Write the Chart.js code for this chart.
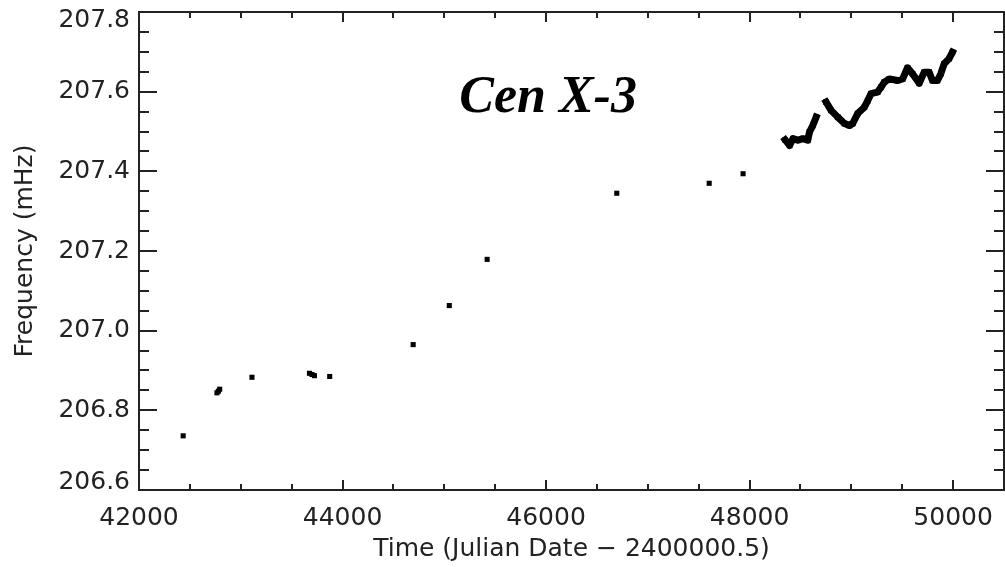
<!DOCTYPE html>
<html>
<head>
<meta charset="utf-8">
<title>Cen X-3</title>
<script src="https://cdn.jsdelivr.net/npm/chart.js@4/dist/chart.umd.min.js"></script>
<style>
    html, body { margin: 0; padding: 0; background: #fff; overflow: hidden; }
    #freq-chart { display: block; }
</style>
</head>
<body>
<canvas id="freq-chart" width="1008" height="567"></canvas>
<script>
// sparse timings (early missions)
const sparseTimes = [42434, 42766, 42780, 42793, 43110, 43675, 43700, 43724, 43874, 44694, 45049, 45421, 46695, 47603, 47936];
const sparseFreqs = [206.736, 206.844, 206.848, 206.853, 206.883, 206.893, 206.890, 206.887, 206.885, 206.965, 207.063, 207.179, 207.345, 207.370, 207.394];

// dense monitoring, null marks the gap between the two runs
const denseTimes = [48350, 48393, 48426, 48474, 48523, 48572, 48589, 48621, 48654, 48700,
    48752, 48801, 48866, 48932, 48981, 49013, 49062, 49128, 49160, 49193, 49258, 49291, 49324,
    49373, 49454, 49504, 49552, 49601, 49667, 49716, 49765, 49797, 49846, 49879, 49912, 49961, 49993];
const denseFreqs = [207.479, 207.465, 207.482, 207.478, 207.482, 207.478, 207.499, 207.515, 207.536, null,
    207.574, 207.553, 207.536, 207.520, 207.515, 207.520, 207.545, 207.561, 207.577, 207.595, 207.599, 207.611, 207.624,
    207.632, 207.628, 207.632, 207.660, 207.645, 207.621, 207.649, 207.649, 207.628, 207.628, 207.645, 207.670, 207.683, 207.699];

const xMajorTicks = [42000, 44000, 46000, 48000, 50000];
const yMajorTicks = [206.6, 206.8, 207.0, 207.2, 207.4, 207.6, 207.8];

const sourceName = 'Cen X-3';
const sourceLabelAt = { x: 46020, y: 207.548 };

const ink = '#222';

Chart.defaults.font.family = "'DejaVu Sans', sans-serif";
Chart.defaults.color = ink;

const toPoints = (xs, ys) => xs.map((x, i) => ({ x: x, y: ys[i] }));
const isEndTick = i => i === 0 || i === yMajorTicks.length - 1;

// IDL-style box with inward ticks on all four sides
const frameTicks = {
    id: 'frameTicks',
    afterDraw(chart) {
        const { ctx, chartArea: a, scales: { x, y } } = chart;
        ctx.save();
        ctx.strokeStyle = ink;
        ctx.lineWidth = 2;
        ctx.strokeRect(a.left, a.top, a.right - a.left, a.bottom - a.top);

        ctx.beginPath();
        for (let i = 0; i <= 17; i++) {
            const px = Math.round(x.getPixelForValue(x.min + i * 500));
            const len = i % 4 === 0 ? 10 : 6;
            ctx.moveTo(px, a.bottom);
            ctx.lineTo(px, a.bottom - len);
            ctx.moveTo(px, a.top);
            ctx.lineTo(px, a.top + len);
        }
        for (let i = 0; i <= 24; i++) {
            const py = Math.round(y.getPixelForValue(y.min + i * 0.05));
            const len = i % 4 === 0 ? 18 : 10;
            ctx.moveTo(a.left, py);
            ctx.lineTo(a.left + len, py);
            ctx.moveTo(a.right, py);
            ctx.lineTo(a.right - len, py);
        }
        ctx.stroke();

        ctx.fillStyle = '#000';
        ctx.font = "bold italic 52px 'Liberation Serif', 'DejaVu Serif', serif";
        ctx.textAlign = 'center';
        ctx.textBaseline = 'alphabetic';
        ctx.fillText(sourceName, x.getPixelForValue(sourceLabelAt.x), y.getPixelForValue(sourceLabelAt.y));
        ctx.restore();
    }
};

new Chart(document.getElementById('freq-chart'), {
    type: 'scatter',
    data: {
        datasets: [
            {
                data: toPoints(sparseTimes, sparseFreqs),
                pointStyle: 'rect',
                pointRadius: 3.6,
                borderWidth: 0,
                backgroundColor: '#000'
            },
            {
                data: toPoints(denseTimes, denseFreqs),
                showLine: true,
                spanGaps: false,
                borderColor: '#000',
                borderWidth: 7,
                borderJoinStyle: 'round',
                borderCapStyle: 'square',
                pointStyle: 'rect',
                pointRadius: 4,
                pointBorderWidth: 0,
                backgroundColor: '#000'
            }
        ]
    },
    options: {
        responsive: false,
        animation: false,
        devicePixelRatio: 1,
        layout: { padding: { top: 12, right: 1, left: 0, bottom: 0 } },
        plugins: {
            legend: { display: false },
            tooltip: { enabled: false }
        },
        scales: {
            x: {
                type: 'linear',
                min: 42000,
                max: 50500,
                afterBuildTicks: scale => {
                    scale.ticks = xMajorTicks.map(v => ({ value: v }));
                },
                afterFit: scale => {
                    scale.height = 77;
                    scale.paddingLeft = 0;
                    scale.paddingRight = 0;
                },
                grid: { display: false, drawTicks: false },
                border: { display: false },
                ticks: {
                    autoSkip: false,
                    padding: 13,
                    maxRotation: 0,
                    font: { size: 25 },
                    callback: v => String(v)
                },
                title: {
                    display: true,
                    text: 'Time (Julian Date \u2212 2400000.5)',
                    font: { size: 25 },
                    padding: { top: 0, bottom: 3 }
                }
            },
            y: {
                min: 206.6,
                max: 207.8,
                afterBuildTicks: scale => {
                    scale.ticks = yMajorTicks.map(v => ({ value: v }));
                },
                afterFit: scale => {
                    scale.width = 139;
                    scale.paddingTop = 0;
                    scale.paddingBottom = 0;
                },
                grid: { display: false, drawTicks: false },
                border: { display: false },
                ticks: {
                    autoSkip: false,
                    padding: 9,
                    font: c => ({ size: 25, lineHeight: isEndTick(c.index) ? 0.64 : 1.2 }),
                    // end labels sit just inside the frame
                    callback: (v, i) => {
                        const label = v.toFixed(1);
                        if (i === 0) return [label, ''];
                        if (i === yMajorTicks.length - 1) return ['', label];
                        return label;
                    }
                },
                title: {
                    display: true,
                    text: 'Frequency (mHz)',
                    font: { size: 25 },
                    padding: { top: 10, bottom: 0 }
                }
            }
        }
    },
    plugins: [frameTicks]
});
</script>
</body>
</html>
